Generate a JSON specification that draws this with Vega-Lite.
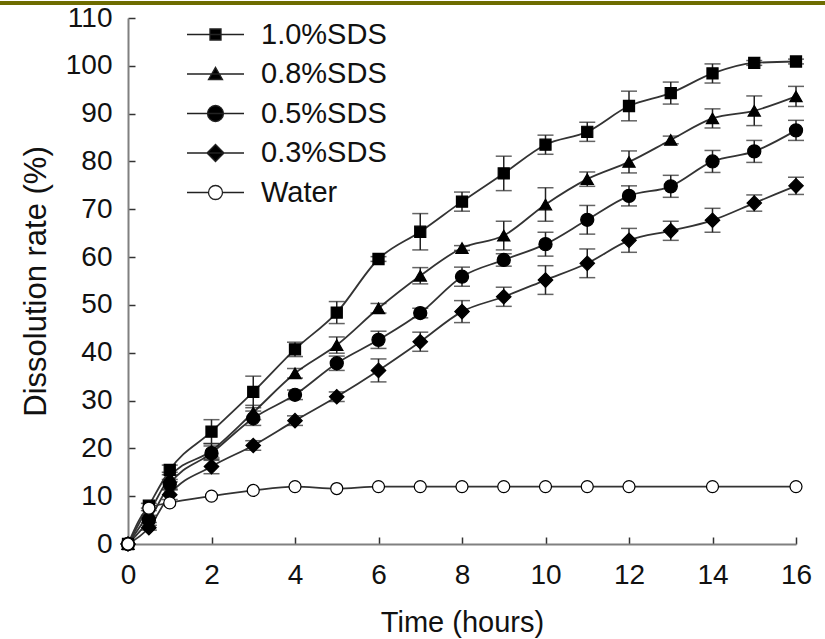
{
  "$schema": "https://vega.github.io/schema/vega-lite/v6.json",
  "width": 668,
  "height": 526,
  "autosize": {"type": "none"},
  "padding": {"left": 128, "top": 18, "right": 29, "bottom": 95},
  "background": "white",
  "config": {
    "view": {"stroke": null},
    "font": "Liberation Sans",
    "axis": {"grid": false, "labelFont": "Liberation Sans", "titleFont": "Liberation Sans"}
  },
  "data": {
    "values": [
      {"series": "1.0%SDS", "time": 0, "rate": 0, "err": 0},
      {"series": "1.0%SDS", "time": 0.5, "rate": 8, "err": 0.5},
      {"series": "1.0%SDS", "time": 1, "rate": 15.5, "err": 1},
      {"series": "1.0%SDS", "time": 2, "rate": 23.5, "err": 2.5},
      {"series": "1.0%SDS", "time": 3, "rate": 31.8, "err": 3.3},
      {"series": "1.0%SDS", "time": 4, "rate": 40.7, "err": 1.5},
      {"series": "1.0%SDS", "time": 5, "rate": 48.4, "err": 2.3},
      {"series": "1.0%SDS", "time": 6, "rate": 59.6, "err": 0.5},
      {"series": "1.0%SDS", "time": 7, "rate": 65.3, "err": 3.8},
      {"series": "1.0%SDS", "time": 8, "rate": 71.6, "err": 2},
      {"series": "1.0%SDS", "time": 9, "rate": 77.5, "err": 3.6},
      {"series": "1.0%SDS", "time": 10, "rate": 83.5, "err": 2},
      {"series": "1.0%SDS", "time": 11, "rate": 86.2, "err": 2},
      {"series": "1.0%SDS", "time": 12, "rate": 91.6, "err": 3.1},
      {"series": "1.0%SDS", "time": 13, "rate": 94.3, "err": 2.3},
      {"series": "1.0%SDS", "time": 14, "rate": 98.4, "err": 2},
      {"series": "1.0%SDS", "time": 15, "rate": 100.6, "err": 0.5},
      {"series": "1.0%SDS", "time": 16, "rate": 100.9, "err": 0.5},
      {"series": "0.8%SDS", "time": 0, "rate": 0, "err": 0},
      {"series": "0.8%SDS", "time": 0.5, "rate": 6.5, "err": 0.5},
      {"series": "0.8%SDS", "time": 1, "rate": 14, "err": 1},
      {"series": "0.8%SDS", "time": 2, "rate": 19.5, "err": 1.5},
      {"series": "0.8%SDS", "time": 3, "rate": 27.5, "err": 1.5},
      {"series": "0.8%SDS", "time": 4, "rate": 35.7, "err": 1},
      {"series": "0.8%SDS", "time": 5, "rate": 41.6, "err": 1.7},
      {"series": "0.8%SDS", "time": 6, "rate": 49.3, "err": 1},
      {"series": "0.8%SDS", "time": 7, "rate": 56.1, "err": 1.7},
      {"series": "0.8%SDS", "time": 8, "rate": 61.9, "err": 0.5},
      {"series": "0.8%SDS", "time": 9, "rate": 64.5, "err": 3},
      {"series": "0.8%SDS", "time": 10, "rate": 71, "err": 3.5},
      {"series": "0.8%SDS", "time": 11, "rate": 76.3, "err": 1.5},
      {"series": "0.8%SDS", "time": 12, "rate": 79.9, "err": 2.3},
      {"series": "0.8%SDS", "time": 13, "rate": 84.5, "err": 0.8},
      {"series": "0.8%SDS", "time": 14, "rate": 89, "err": 2},
      {"series": "0.8%SDS", "time": 15, "rate": 90.6, "err": 3.1},
      {"series": "0.8%SDS", "time": 16, "rate": 93.6, "err": 2.1},
      {"series": "0.5%SDS", "time": 0, "rate": 0, "err": 0},
      {"series": "0.5%SDS", "time": 0.5, "rate": 5, "err": 0.5},
      {"series": "0.5%SDS", "time": 1, "rate": 12.5, "err": 1},
      {"series": "0.5%SDS", "time": 2, "rate": 19, "err": 1.5},
      {"series": "0.5%SDS", "time": 3, "rate": 26.3, "err": 1.5},
      {"series": "0.5%SDS", "time": 4, "rate": 31.2, "err": 1},
      {"series": "0.5%SDS", "time": 5, "rate": 37.8, "err": 1.5},
      {"series": "0.5%SDS", "time": 6, "rate": 42.7, "err": 1.8},
      {"series": "0.5%SDS", "time": 7, "rate": 48.3, "err": 1},
      {"series": "0.5%SDS", "time": 8, "rate": 55.9, "err": 2},
      {"series": "0.5%SDS", "time": 9, "rate": 59.4, "err": 1.3},
      {"series": "0.5%SDS", "time": 10, "rate": 62.7, "err": 2.5},
      {"series": "0.5%SDS", "time": 11, "rate": 67.8, "err": 3},
      {"series": "0.5%SDS", "time": 12, "rate": 72.8, "err": 2.1},
      {"series": "0.5%SDS", "time": 13, "rate": 74.8, "err": 2.3},
      {"series": "0.5%SDS", "time": 14, "rate": 80, "err": 2.3},
      {"series": "0.5%SDS", "time": 15, "rate": 82.1, "err": 2.3},
      {"series": "0.5%SDS", "time": 16, "rate": 86.5, "err": 2.1},
      {"series": "0.3%SDS", "time": 0, "rate": 0, "err": 0},
      {"series": "0.3%SDS", "time": 0.5, "rate": 3.4, "err": 0.5},
      {"series": "0.3%SDS", "time": 1, "rate": 10.3, "err": 1},
      {"series": "0.3%SDS", "time": 2, "rate": 16.2, "err": 1.5},
      {"series": "0.3%SDS", "time": 3, "rate": 20.6, "err": 1},
      {"series": "0.3%SDS", "time": 4, "rate": 25.8, "err": 1},
      {"series": "0.3%SDS", "time": 5, "rate": 30.8, "err": 1},
      {"series": "0.3%SDS", "time": 6, "rate": 36.3, "err": 2.4},
      {"series": "0.3%SDS", "time": 7, "rate": 42.3, "err": 2},
      {"series": "0.3%SDS", "time": 8, "rate": 48.6, "err": 2.3},
      {"series": "0.3%SDS", "time": 9, "rate": 51.7, "err": 2},
      {"series": "0.3%SDS", "time": 10, "rate": 55.2, "err": 3},
      {"series": "0.3%SDS", "time": 11, "rate": 58.7, "err": 3},
      {"series": "0.3%SDS", "time": 12, "rate": 63.5, "err": 2.5},
      {"series": "0.3%SDS", "time": 13, "rate": 65.5, "err": 2},
      {"series": "0.3%SDS", "time": 14, "rate": 67.7, "err": 2.5},
      {"series": "0.3%SDS", "time": 15, "rate": 71.3, "err": 1.7},
      {"series": "0.3%SDS", "time": 16, "rate": 74.9, "err": 1.8},
      {"series": "Water", "time": 0, "rate": 0, "err": 0},
      {"series": "Water", "time": 0.5, "rate": 7.5, "err": 0},
      {"series": "Water", "time": 1, "rate": 8.6, "err": 0},
      {"series": "Water", "time": 2, "rate": 10, "err": 0},
      {"series": "Water", "time": 3, "rate": 11.2, "err": 0},
      {"series": "Water", "time": 4, "rate": 12, "err": 0},
      {"series": "Water", "time": 5, "rate": 11.6, "err": 0},
      {"series": "Water", "time": 6, "rate": 12, "err": 0},
      {"series": "Water", "time": 7, "rate": 12, "err": 0},
      {"series": "Water", "time": 8, "rate": 12, "err": 0},
      {"series": "Water", "time": 9, "rate": 12, "err": 0},
      {"series": "Water", "time": 10, "rate": 12, "err": 0},
      {"series": "Water", "time": 11, "rate": 12, "err": 0},
      {"series": "Water", "time": 12, "rate": 12, "err": 0},
      {"series": "Water", "time": 14, "rate": 12, "err": 0},
      {"series": "Water", "time": 16, "rate": 12, "err": 0}
    ]
  },
  "resolve": {"scale": {"shape": "independent", "fill": "independent", "stroke": "independent"}},
  "layer": [
    {
      "mark": {"type": "rule", "color": "#6e6c00", "strokeWidth": 3.5, "clip": false},
      "encoding": {
        "x": {"datum": -3.2, "type": "quantitative", "scale": {"domain": [0, 16], "nice": false, "zero": false}},
        "x2": {"datum": 16.9},
        "y": {"datum": 113.1, "type": "quantitative", "scale": {"domain": [0, 110], "nice": false}}
      }
    },
    {
      "mark": {"type": "line", "color": "#333333", "strokeWidth": 1.8, "interpolate": "monotone"},
      "encoding": {
        "x": {"field": "time", "type": "quantitative", "scale": {"domain": [0, 16], "nice": false, "zero": false},
          "axis": {"title": "Time (hours)", "values": [0, 2, 4, 6, 8, 10, 12, 14, 16], "tickSize": -7, "labelPadding": 24, "labelFlush": false,
            "labelFontSize": 28, "labelColor": "#111111", "labelAngle": 0, "titleFontSize": 29, "titleFontWeight": "normal", "titleColor": "#111111",
            "titlePadding": 19, "domainColor": "#808080", "domainWidth": 2, "tickColor": "#333333", "tickWidth": 1.5}},
        "y": {"field": "rate", "type": "quantitative", "scale": {"domain": [0, 110], "nice": false},
          "axis": {"title": "Dissolution rate (%)", "values": [0, 10, 20, 30, 40, 50, 60, 70, 80, 90, 100, 110], "tickSize": -7, "labelPadding": 23, "labelFlush": false,
            "labelFontSize": 28, "labelColor": "#111111", "titleFontSize": 31, "titleFontWeight": "normal", "titleColor": "#111111",
            "titlePadding": 13, "domainColor": "#808080", "domainWidth": 2, "tickColor": "#333333", "tickWidth": 1.5}},
        "detail": {"field": "series"}
      }
    },
    {
      "transform": [{"filter": "datum.err > 0"}],
      "mark": {"type": "errorbar", "color": "#222222", "thickness": 1.5, "ticks": {"size": 16, "thickness": 1.5, "color": "#222222"}},
      "encoding": {
        "x": {"field": "time", "type": "quantitative", "title": "Time (hours)"},
        "y": {"field": "rate", "type": "quantitative", "title": "Dissolution rate (%)"},
        "yError": {"field": "err"},
        "detail": {"field": "series"}
      }
    },
    {
      "mark": {"type": "point", "filled": true, "stroke": "black", "strokeWidth": 1.2, "opacity": 1},
      "encoding": {
        "x": {"field": "time", "type": "quantitative", "title": "Time (hours)"},
        "y": {"field": "rate", "type": "quantitative", "title": "Dissolution rate (%)"},
        "shape": {"field": "series", "type": "nominal",
          "scale": {"domain": ["1.0%SDS", "0.8%SDS", "0.5%SDS", "0.3%SDS", "Water"], "range": ["square", "triangle-up", "circle", "diamond", "circle"]},
          "legend": null},
        "fill": {"condition": {"test": "datum.series === 'Water'", "value": "white"}, "value": "black"},
        "size": {"condition": [
          {"test": "datum.series === '1.0%SDS'", "value": 123},
          {"test": "datum.series === '0.8%SDS'", "value": 150},
          {"test": "datum.series === '0.5%SDS'", "value": 172},
          {"test": "datum.series === '0.3%SDS'", "value": 210}
        ], "value": 144}
      }
    },
    {
      "mark": {"type": "point", "filled": true, "strokeWidth": 1.3, "opacity": 0, "size": 144},
      "encoding": {
        "x": {"field": "time", "type": "quantitative", "title": "Time (hours)"},
        "y": {"field": "rate", "type": "quantitative", "title": "Dissolution rate (%)"},
        "shape": {"field": "series", "type": "nominal",
          "scale": {"domain": ["1.0%SDS", "0.8%SDS", "0.5%SDS", "0.3%SDS", "Water"],
            "range": [
              "M-4.75,0H4.75M-0.92,-0.92H0.92V0.92H-0.92Z",
              "M-4.75,0H4.75M0,-1.1L1.17,0.92H-1.17Z",
              "M-4.75,0H4.75M-1.33,0A1.33,1.33,0,1,0,1.33,0A1.33,1.33,0,1,0,-1.33,0Z",
              "M-4.75,0H4.75M-1.42,0L0,-1.42L1.42,0L0,1.42Z",
              "M-4.75,0H-1.17M1.17,0H4.75M-1.17,0A1.17,1.17,0,1,0,1.17,0A1.17,1.17,0,1,0,-1.17,0Z"
            ]},
          "legend": {"title": null, "orient": "none", "legendX": 73, "legendY": 2, "symbolSize": 144, "rowPadding": 9.5, "labelOffset": 31, "padding": 0,
            "labelFontSize": 29, "labelFont": "Liberation Sans", "labelColor": "#111111", "symbolStrokeWidth": 1.3, "symbolOpacity": 1}},
        "fill": {"field": "series", "type": "nominal",
          "scale": {"domain": ["1.0%SDS", "0.8%SDS", "0.5%SDS", "0.3%SDS", "Water"], "range": ["black", "black", "black", "black", "white"]},
          "legend": {"title": null, "orient": "none", "legendX": 73, "legendY": 2, "symbolSize": 144, "rowPadding": 9.5, "labelOffset": 31, "padding": 0,
            "labelFontSize": 29, "labelFont": "Liberation Sans", "labelColor": "#111111", "symbolStrokeWidth": 1.3, "symbolOpacity": 1}},
        "stroke": {"field": "series", "type": "nominal",
          "scale": {"domain": ["1.0%SDS", "0.8%SDS", "0.5%SDS", "0.3%SDS", "Water"], "range": ["#222222", "#222222", "#222222", "#222222", "#222222"]},
          "legend": {"title": null, "orient": "none", "legendX": 73, "legendY": 2, "symbolSize": 144, "rowPadding": 9.5, "labelOffset": 31, "padding": 0,
            "labelFontSize": 29, "labelFont": "Liberation Sans", "labelColor": "#111111", "symbolStrokeWidth": 1.3, "symbolOpacity": 1}}
      }
    }
  ]
}
